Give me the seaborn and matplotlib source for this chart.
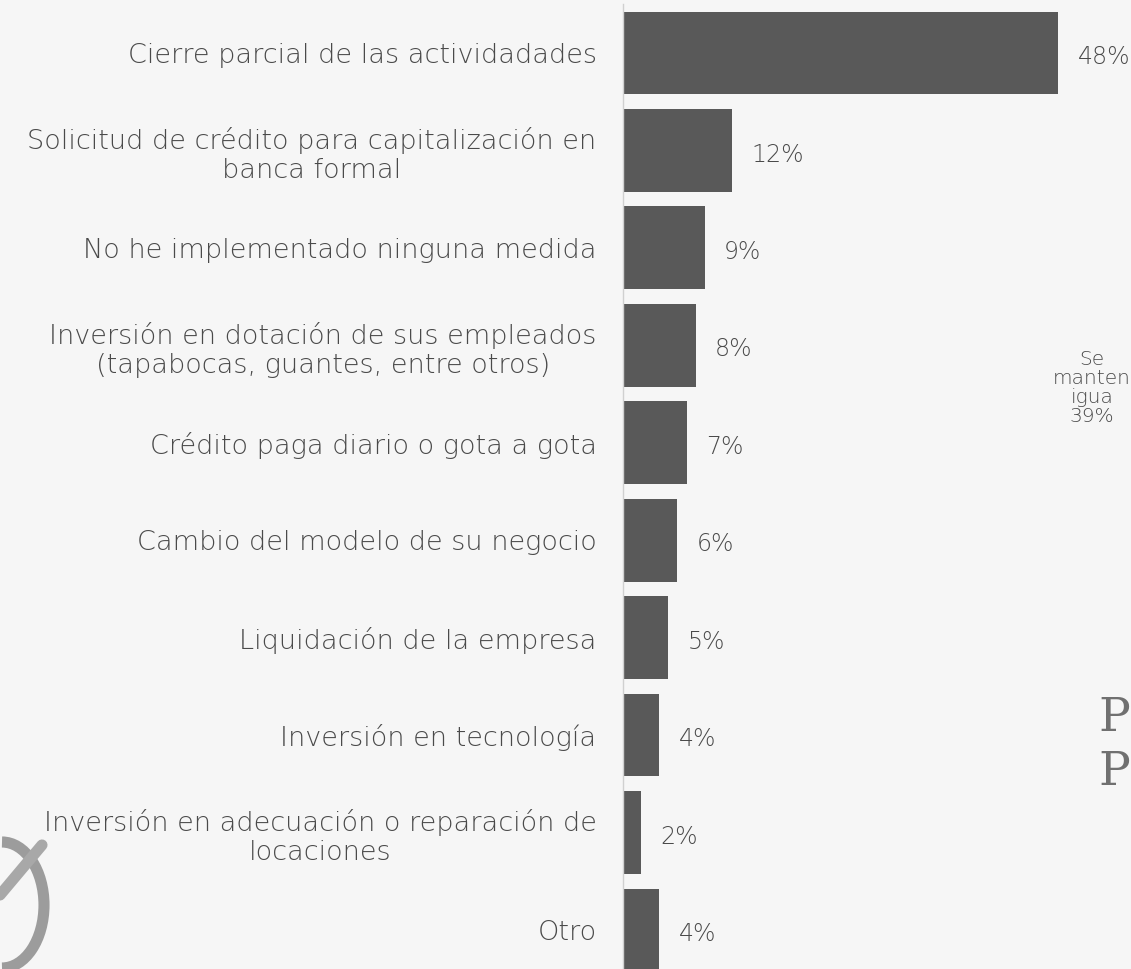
import matplotlib
matplotlib.use("Agg")
import matplotlib.pyplot as plt
import seaborn as sns
import pandas as pd
from matplotlib.patches import Arc

categories = [
    "Cierre parcial de las actividadades",
    "Solicitud de crédito para capitalización en\nbanca formal",
    "No he implementado ninguna medida",
    "Inversión en dotación de sus empleados\n(tapabocas, guantes, entre otros)",
    "Crédito paga diario o gota a gota",
    "Cambio del modelo de su negocio",
    "Liquidación de la empresa",
    "Inversión en tecnología",
    "Inversión en adecuación o reparación de\nlocaciones",
    "Otro",
]
values = [48, 12, 9, 8, 7, 6, 5, 4, 2, 4]
value_labels = ["48%", "12%", "9%", "8%", "7%", "6%", "5%", "4%", "2%", "4%"]

df = pd.DataFrame({"categoria": categories, "valor": values})

sns.set_theme(style="white")
plt.rcParams["font.family"] = ["DejaVu Sans"]

BG = "#f6f6f6"
BAR = "#595959"
TXT = "#4a4a4a"

fig = plt.figure(figsize=(11.31, 9.69), dpi=100, facecolor=BG)
ax = fig.add_axes([623 / 1131, -0.01, 1 - 623 / 1131, 1.0056])
ax.set_facecolor("none")

sns.barplot(data=df, y="categoria", x="valor", orient="h", color=BAR,
            width=0.85, saturation=1, ax=ax, order=categories, linewidth=0)

ax.set_xlim(0, 56)
ax.set_ylim(9.5, -0.5)
ax.set_xlabel("")
ax.set_ylabel("")
ax.set_xticks([])
for s in ["top", "right", "bottom"]:
    ax.spines[s].set_visible(False)
ax.spines["left"].set_color("#d0d0d0")
ax.spines["left"].set_linewidth(1.0)
ax.tick_params(axis="y", length=0, pad=19)
for lab in ax.get_yticklabels():
    lab.set_fontsize(19.5)
    lab.set_color(TXT)
    lab.set_fontweight("light")
    lab.set_multialignment("center")
    lab.set_linespacing(1.2)

for i, (v, t) in enumerate(zip(values, value_labels)):
    ax.annotate(t, (v, i), xytext=(14, -3), textcoords="offset points",
                ha="left", va="center", fontsize=17, color=TXT,
                fontweight="light")

# cropped fragments of the surrounding slide
fig.text(1131 / 1131, 1 - 388 / 969, "Se\nmanten\nigua\n39%", ha="right",
         va="center", fontsize=14.5, color=TXT, multialignment="center",
         linespacing=1.0, fontweight="light")
fig.text(1098 / 1131, 1 - 718 / 969, "P", ha="left", va="center",
         fontsize=34, color="#707070", family="DejaVu Serif")
fig.text(1130 / 1131, 1 - 772 / 969, "P", ha="right", va="center",
         fontsize=34, color="#707070", family="DejaVu Serif")

# partial logo in the lower-left corner
arc = Arc((2 / 1131, 1 - 905 / 969), 84 / 1131, 126 / 969, angle=0,
          theta1=-90, theta2=90, transform=fig.transFigure,
          color="#9c9c9c", lw=8)
fig.add_artist(arc)
fig.lines.append(plt.Line2D([0 / 1131, 42 / 1131], [1 - 895 / 969, 1 - 845 / 969],
                            transform=fig.transFigure, color="#a8a8a8", lw=8))

fig.savefig("out.png", dpi=100, facecolor=BG)
